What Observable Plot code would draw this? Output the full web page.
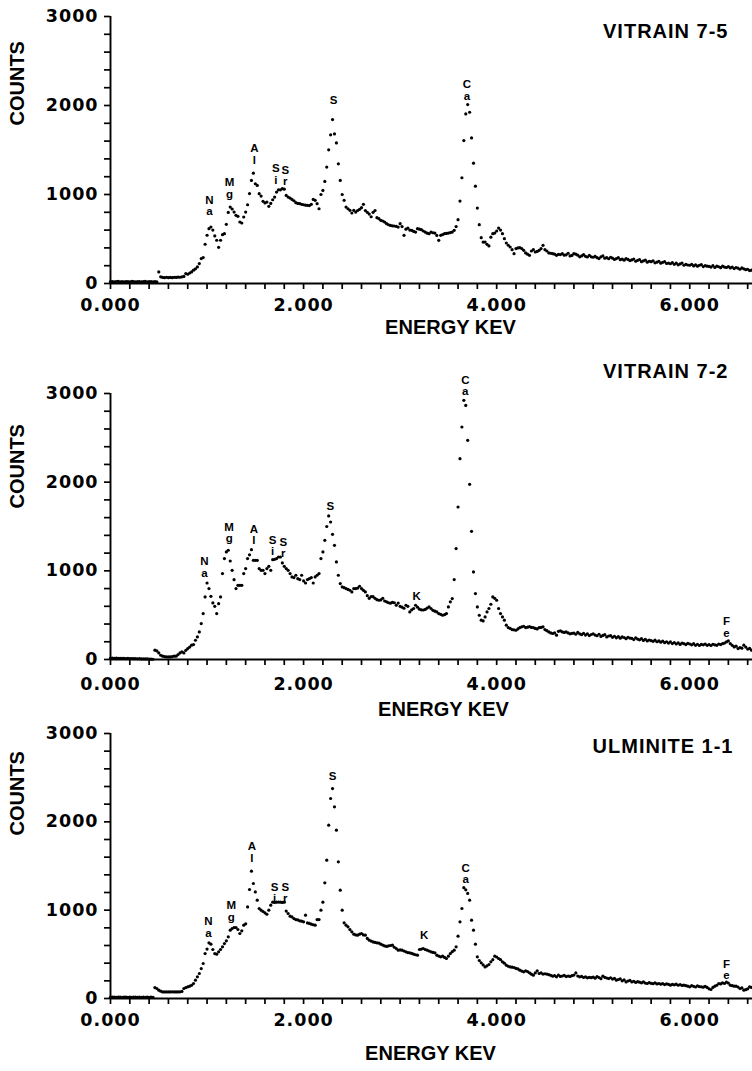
<!DOCTYPE html>
<html><head><meta charset="utf-8">
<script src="https://cdn.jsdelivr.net/npm/d3@7"></script>
<script src="https://cdn.jsdelivr.net/npm/@observablehq/plot@0.6"></script>
<style>
html,body{margin:0;padding:0;background:#fff;}
#chart{position:relative;width:752px;height:1071px;overflow:hidden;background:#fff;}
#chart > div{position:absolute;left:0;width:752px;}
#chart svg{overflow:visible;display:block;}
#chart g[aria-label^="x-axis"] text, #chart g[aria-label^="y-axis"] text{letter-spacing:1px;}
#chart g[aria-label^="x-axis"] line, #chart g[aria-label^="y-axis"] line,
#chart g[aria-label^="x-axis"] path, #chart g[aria-label^="y-axis"] path{stroke-width:1.7px;stroke:#000;}
</style></head>
<body><div id="chart"></div>
<script>
// channel energies (keV)
const energyKeV = [
0,0.02,0.04,0.06,0.08,0.1,0.12,0.14,0.16,0.18,
0.2,0.22,0.24,0.26,0.28,0.3,0.32,0.34,0.36,0.38,
0.4,0.42,0.44,0.46,0.48,0.5,0.52,0.54,0.56,0.58,
0.6,0.62,0.64,0.66,0.68,0.7,0.72,0.74,0.76,0.78,
0.8,0.82,0.84,0.86,0.88,0.9,0.92,0.94,0.96,0.98,
1,1.02,1.04,1.06,1.08,1.1,1.12,1.14,1.16,1.18,
1.2,1.22,1.24,1.26,1.28,1.3,1.32,1.34,1.36,1.38,
1.4,1.42,1.44,1.46,1.48,1.5,1.52,1.54,1.56,1.58,
1.6,1.62,1.64,1.66,1.68,1.7,1.72,1.74,1.76,1.78,
1.8,1.82,1.84,1.86,1.88,1.9,1.92,1.94,1.96,1.98,
2,2.02,2.04,2.06,2.08,2.1,2.12,2.14,2.16,2.18,
2.2,2.22,2.24,2.26,2.28,2.3,2.32,2.34,2.36,2.38,
2.4,2.42,2.44,2.46,2.48,2.5,2.52,2.54,2.56,2.58,
2.6,2.62,2.64,2.66,2.68,2.7,2.72,2.74,2.76,2.78,
2.8,2.82,2.84,2.86,2.88,2.9,2.92,2.94,2.96,2.98,
3,3.02,3.04,3.06,3.08,3.1,3.12,3.14,3.16,3.18,
3.2,3.22,3.24,3.26,3.28,3.3,3.32,3.34,3.36,3.38,
3.4,3.42,3.44,3.46,3.48,3.5,3.52,3.54,3.56,3.58,
3.6,3.62,3.64,3.66,3.68,3.7,3.72,3.74,3.76,3.78,
3.8,3.82,3.84,3.86,3.88,3.9,3.92,3.94,3.96,3.98,
4,4.02,4.04,4.06,4.08,4.1,4.12,4.14,4.16,4.18,
4.2,4.22,4.24,4.26,4.28,4.3,4.32,4.34,4.36,4.38,
4.4,4.42,4.44,4.46,4.48,4.5,4.52,4.54,4.56,4.58,
4.6,4.62,4.64,4.66,4.68,4.7,4.72,4.74,4.76,4.78,
4.8,4.82,4.84,4.86,4.88,4.9,4.92,4.94,4.96,4.98,
5,5.02,5.04,5.06,5.08,5.1,5.12,5.14,5.16,5.18,
5.2,5.22,5.24,5.26,5.28,5.3,5.32,5.34,5.36,5.38,
5.4,5.42,5.44,5.46,5.48,5.5,5.52,5.54,5.56,5.58,
5.6,5.62,5.64,5.66,5.68,5.7,5.72,5.74,5.76,5.78,
5.8,5.82,5.84,5.86,5.88,5.9,5.92,5.94,5.96,5.98,
6,6.02,6.04,6.06,6.08,6.1,6.12,6.14,6.16,6.18,
6.2,6.22,6.24,6.26,6.28,6.3,6.32,6.34,6.36,6.38,
6.4,6.42,6.44,6.46,6.48,6.5,6.52,6.54,6.56,6.58,
6.6,6.62,6.64];

const countsVitrain75 = [
20,22,18,20,24,19,21,18,22,20,
19,23,20,18,21,22,19,20,23,18,
21,20,19,22,18,130,75,68,65,70,
66,68,65,70,68,72,70,75,80,112,
104,118,130,150,165,186,224,280,291,441,
542,616,635,600,534,486,407,486,549,560,
665,799,859,837,803,766,755,691,680,747,
803,885,1010,1158,1240,1121,1102,1009,982,923,
905,915,867,900,941,971,1027,1053,1053,1065,
1060,990,971,960,945,930,908,900,897,890,
885,880,878,876,890,945,934,897,840,1000,
1046,1147,1308,1502,1670,1842,1681,1580,1345,1158,
1000,934,859,840,822,792,822,803,820,833,
852,890,820,800,780,750,800,820,740,728,
710,702,690,672,660,653,648,646,642,634,
672,640,541,610,623,600,597,585,578,616,
610,605,590,578,565,560,578,570,567,540,
485,541,550,560,563,567,572,578,597,640,
717,926,1188,1606,1905,2010,1924,1636,1352,1094,
848,661,515,466,466,440,422,520,560,567,
590,623,600,560,504,455,430,410,380,335,
392,400,403,392,373,343,330,317,365,380,
354,360,373,392,429,380,365,343,340,335,
330,317,328,325,335,318,322,340,310,315,
336,330,318,300,310,325,305,298,315,300,
295,305,290,280,300,310,285,290,278,295,
285,270,280,290,268,275,262,280,270,258,
265,275,250,260,268,245,255,262,240,250,
245,255,232,240,250,228,238,245,225,230,
222,235,215,228,210,220,230,205,215,208,
205,215,198,210,195,205,212,190,200,195,
192,185,200,180,195,188,178,195,185,180,
190,175,185,168,180,172,160,175,165,155,
160,145,150];

const countsVitrain72 = [
15,16,14,15,13,14,12,13,11,12,
10,11,9,10,8,9,7,8,6,7,
5,4,3,105,97,74,48,37,33,29,
30,29,33,37,37,55,74,86,74,104,
123,140,161,168,217,255,311,405,518,706,
863,800,713,638,600,518,630,706,969,1138,
1213,1232,1111,1006,900,800,837,837,837,969,
1025,1138,1180,1239,1119,1119,1119,1025,1006,1006,
969,1025,1051,1006,1126,1130,1138,1156,1156,1089,
1051,1025,1006,969,931,924,950,912,901,950,
886,863,901,912,924,863,931,950,969,1138,
1213,1344,1500,1619,1551,1412,1288,1100,950,856,
818,810,800,790,781,762,800,800,805,826,
800,780,762,720,690,710,708,690,675,668,
672,690,660,650,640,635,645,640,612,636,
600,590,578,612,600,537,560,575,612,590,
568,560,558,565,580,593,575,555,545,537,
518,510,499,505,518,593,650,687,901,1251,
1720,2265,2622,2923,2866,2472,1976,1446,988,744,
593,499,443,435,480,537,575,623,706,690,
668,575,518,480,443,387,360,350,338,335,
330,345,360,368,375,360,365,370,362,360,
350,345,360,362,368,338,325,311,300,293,
300,274,318,323,311,305,311,300,290,295,
298,285,305,290,280,295,275,288,270,282,
290,275,268,285,260,272,280,255,265,270,
250,262,245,258,240,255,248,235,250,242,
238,225,245,230,222,235,215,228,210,220,
212,205,218,200,210,195,208,190,200,185,
198,180,192,175,188,170,185,178,168,182,
175,165,178,160,172,158,170,165,175,160,
168,158,172,165,160,175,168,178,185,198,
210,180,160,142,150,123,135,128,161,140,
118,125,105];

const countsUlminite11 = [
15,16,15,14,16,15,14,15,16,14,
15,14,16,15,14,15,13,15,14,15,
14,15,13,124,113,94,83,75,75,75,
75,74,76,75,75,74,76,80,113,124,
132,140,150,170,207,245,283,339,396,509,
560,630,615,555,509,502,528,555,585,622,
653,698,773,792,804,804,781,736,766,830,
845,1037,1234,1441,1302,1207,1113,1019,1000,985,
970,954,1000,1056,1090,1088,1090,1092,1090,1088,
1090,990,962,932,924,905,894,890,879,875,
868,943,856,850,841,835,830,894,894,1000,
1091,1309,1566,1962,2264,2377,2170,1906,1547,1226,
1000,857,830,811,780,755,728,720,717,728,
736,720,717,680,660,650,641,635,630,628,
615,605,595,590,596,600,604,580,566,547,
550,547,538,528,520,517,510,502,495,490,
555,560,566,555,547,538,528,522,517,490,
480,472,479,465,453,479,509,530,547,585,
706,868,1019,1255,1230,1190,1113,887,773,615,
472,430,404,380,358,370,385,415,440,479,
470,453,440,415,400,377,365,358,355,351,
340,335,321,310,302,313,305,291,275,264,
290,313,283,290,276,280,276,270,262,253,
258,245,264,250,255,262,248,255,250,258,
265,290,255,245,250,238,245,234,240,236,
242,230,248,238,225,253,240,232,226,235,
220,228,207,215,222,200,210,188,198,205,
188,195,182,190,185,177,188,175,170,180,
172,168,178,165,170,162,168,158,165,160,
151,160,155,162,150,158,148,151,145,140,
132,145,138,130,142,135,132,128,138,125,
110,102,125,140,150,170,165,177,170,185,
175,151,145,140,140,130,113,120,94,100,
110,132,125];

// element peak labels
const labelText75   = ["N\na","M\ng","A\nl","S\ni","S\nr","S","C\na"];
const labelKeV75    = [1.025,1.232,1.491,1.713,1.81,2.31,3.692];
const labelCounts75 = [766,966,1345,1121,1102,2018,2063];

const labelText72   = ["N\na","M\ng","A\nl","S\ni","S\nr","S","K","C\na","F\ne"];
const labelKeV72    = [0.973,1.229,1.485,1.68,1.79,2.276,3.17,3.675,6.38];
const labelCounts72 = [931,1325,1299,1175,1156,1690,668,2979,255];

const labelText11   = ["N\na","M\ng","A\nl","S\ni","S\nr","S","K","C\na","F\ne"];
const labelKeV11    = [1.015,1.25,1.464,1.70,1.81,2.30,3.25,3.68,6.38];
const labelCounts11 = [697,881,1546,1090,1090,2471,668,1302,218];

const panelTitles = ["VITRAIN 7-5","VITRAIN 7-2","ULMINITE 1-1"];
const xMinorTicks = [0,0.2,0.4,0.6,0.8,1,1.2,1.4,1.6,1.8,2,2.2,2.4,2.6,2.8,3,3.2,3.4,3.6,3.8,4,4.2,4.4,4.6,4.8,5,5.2,5.4,5.6,5.8,6,6.2,6.4,6.6];
const xLabelTicks = [0,2,4,6];
const yMinorTicks = [0,200,400,600,800,1000,1200,1400,1600,1800,2000,2200,2400,2600,2800,3000];
const yLabelTicks = [0,1000,2000,3000];
const xAxisTitle = "ENERGY KEV";
const yAxisTitle = "COUNTS";

const panels = [
  {title: panelTitles[0], counts: countsVitrain75, lt: labelText75, le: labelKeV75, lc: labelCounts75,
   top: 0, height: 345, mt: 16, mb: 62, xpad: 9, tdx: -24, tdy: 7, cdy: -24.5, edx: 19, edy: 50},
  {title: panelTitles[1], counts: countsVitrain72, lt: labelText72, le: labelKeV72, lc: labelCounts72,
   top: 345, height: 383, mt: 48, mb: 69, xpad: 12, tdx: -24, tdy: -30, cdy: -18, edx: 12, edy: 56},
  {title: panelTitles[2], counts: countsUlminite11, lt: labelText11, le: labelKeV11, lc: labelCounts11,
   top: 728, height: 343, mt: 5, mb: 73, xpad: 9, tdx: -19, tdy: 5, cdy: -30.5, edx: -1, edy: 61}
];

const fmtX = d3.format(".3f");
const chart = document.getElementById("chart");

for (const p of panels) {
  const spectrum = energyKeV.map((e, i) => ({e, c: p.counts[i]})).filter(d => d.c != null);
  const labels = p.lt.map((t, i) => ({t, e: p.le[i], c: p.lc[i]}));
  const svg = Plot.plot({
    width: 752, height: p.height,
    marginLeft: 110, marginRight: 0, marginTop: p.mt, marginBottom: p.mb,
    style: {fontFamily: "'DejaVu Sans', sans-serif", fontWeight: "bold", fontSize: "17.5px", color: "#000", background: "transparent", overflow: "visible"},
    x: {domain: [0, 6.65], ticks: xMinorTicks, tickFormat: d => xLabelTicks.includes(d) ? fmtX(d) : "", tickSize: 6, tickPadding: p.xpad, label: null},
    y: {domain: [0, 3000], ticks: yMinorTicks, tickFormat: d => yLabelTicks.includes(d) ? String(d) : "", tickSize: 6, tickPadding: 6, label: null},
    marks: [
      Plot.ruleY([0], {stroke: "#000", strokeWidth: 1.9}),
      Plot.ruleX([0], {stroke: "#000", strokeWidth: 1.9}),
      Plot.dot(spectrum, {x: "e", y: "c", r: 1.6, fill: "#000", stroke: null}),
      Plot.text(labels, {x: "e", y: "c", text: "t", lineAnchor: "bottom", lineHeight: 1.0, fontSize: 11.5, fontFamily: "'Liberation Sans', Arial, sans-serif", fontWeight: "bold", fill: "#000"}),
      Plot.text([p.title], {frameAnchor: "top-right", textAnchor: "end", dx: p.tdx, dy: p.tdy, fontSize: 20, fontFamily: "'Liberation Sans', Arial, sans-serif", fontWeight: "bold", fill: "#000"}),
      Plot.text([yAxisTitle], {frameAnchor: "left", rotate: -90, dx: -92.5, dy: p.cdy, fontSize: 20, fontFamily: "'Liberation Sans', Arial, sans-serif", fontWeight: "bold", fill: "#000"}),
      Plot.text([xAxisTitle], {frameAnchor: "bottom", dx: p.edx, dy: p.edy, fontSize: 20, fontFamily: "'Liberation Sans', Arial, sans-serif", fontWeight: "bold", fill: "#000"})
    ]
  });
  svg.querySelectorAll("text").forEach(t => {
    if (t.textContent === p.title) t.style.letterSpacing = "1px";
  });
  const holder = document.createElement("div");
  holder.style.top = p.top + "px";
  holder.appendChild(svg);
  chart.appendChild(holder);
}
</script>
</body></html>
